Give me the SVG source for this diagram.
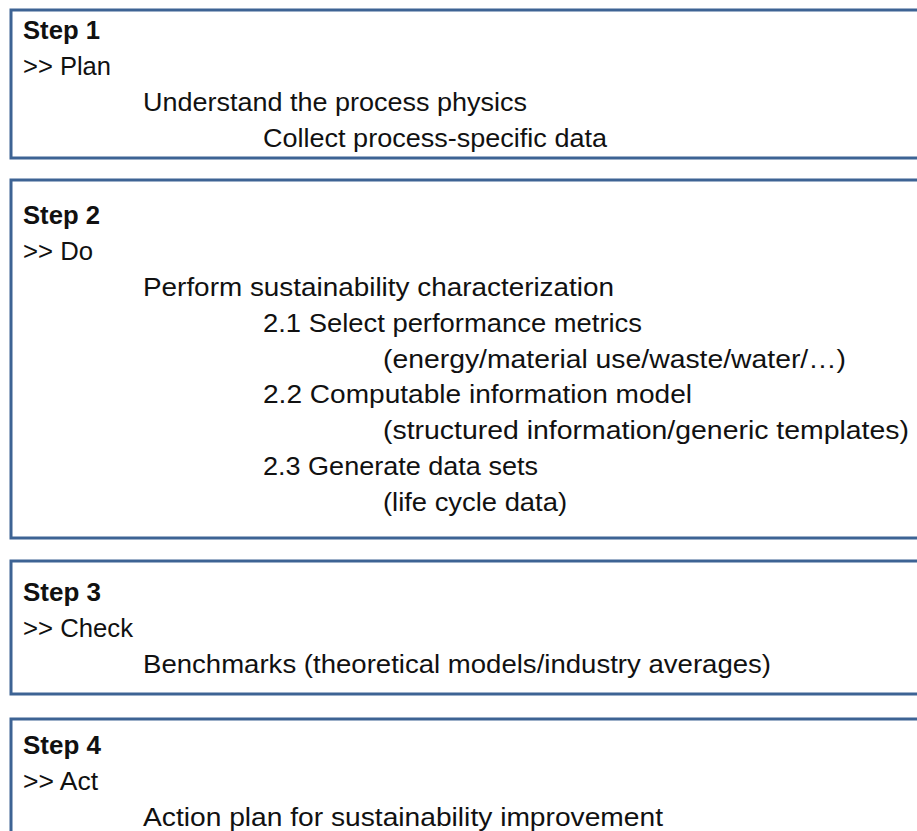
<svg xmlns="http://www.w3.org/2000/svg" width="917" height="831" viewBox="0 0 917 831">
<style>
.box{fill:#ffffff;stroke:#3d6394;stroke-width:3}
.t{font-family:"Liberation Sans",Arial,sans-serif;font-size:26px;fill:#111111}
.b{font-weight:bold}
</style>
<rect width="917" height="831" fill="#ffffff"/>
<g id="step1">
<rect class="box" x="11" y="10" width="930" height="148"/>
<text class="t b" x="23" y="39" textLength="77" lengthAdjust="spacingAndGlyphs">Step 1</text>
<text class="t" x="23" y="75" textLength="88" lengthAdjust="spacingAndGlyphs">&gt;&gt; Plan</text>
<text class="t" x="143" y="111" textLength="384" lengthAdjust="spacingAndGlyphs">Understand the process physics</text>
<text class="t" x="263" y="147" textLength="344" lengthAdjust="spacingAndGlyphs">Collect process-specific data</text>
</g>
<g id="step2">
<rect class="box" x="11" y="180" width="930" height="358"/>
<text class="t b" x="23" y="224" textLength="77" lengthAdjust="spacingAndGlyphs">Step 2</text>
<text class="t" x="23" y="260" textLength="70" lengthAdjust="spacingAndGlyphs">&gt;&gt; Do</text>
<text class="t" x="143" y="296" textLength="471" lengthAdjust="spacingAndGlyphs">Perform sustainability characterization</text>
<text class="t" x="263" y="332" textLength="379" lengthAdjust="spacingAndGlyphs">2.1 Select performance metrics</text>
<text class="t" x="383" y="368" textLength="463" lengthAdjust="spacingAndGlyphs">(energy/material use/waste/water/…)</text>
<text class="t" x="263" y="403" textLength="429" lengthAdjust="spacingAndGlyphs">2.2 Computable information model</text>
<text class="t" x="383" y="439" textLength="526" lengthAdjust="spacingAndGlyphs">(structured information/generic templates)</text>
<text class="t" x="263" y="475" textLength="275" lengthAdjust="spacingAndGlyphs">2.3 Generate data sets</text>
<text class="t" x="383" y="511" textLength="184" lengthAdjust="spacingAndGlyphs">(life cycle data)</text>
</g>
<g id="step3">
<rect class="box" x="11" y="561" width="930" height="133"/>
<text class="t b" x="23" y="601" textLength="78" lengthAdjust="spacingAndGlyphs">Step 3</text>
<text class="t" x="23" y="637" textLength="110" lengthAdjust="spacingAndGlyphs">&gt;&gt; Check</text>
<text class="t" x="143" y="673" textLength="628" lengthAdjust="spacingAndGlyphs">Benchmarks (theoretical models/industry averages)</text>
</g>
<g id="step4">
<rect class="box" x="11" y="719" width="930" height="140"/>
<text class="t b" x="23" y="754" textLength="78" lengthAdjust="spacingAndGlyphs">Step 4</text>
<text class="t" x="23" y="790" textLength="75" lengthAdjust="spacingAndGlyphs">&gt;&gt; Act</text>
<text class="t" x="143" y="826" textLength="520" lengthAdjust="spacingAndGlyphs">Action plan for sustainability improvement</text>
</g>
<g id="connectors"></g>
</svg>
